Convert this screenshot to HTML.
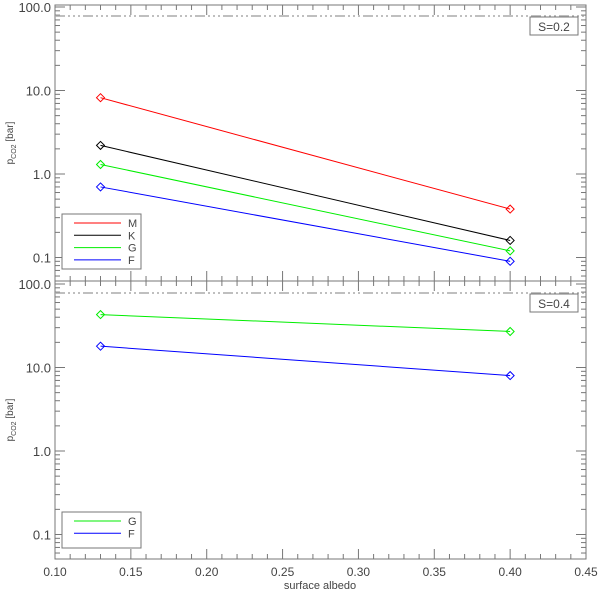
<!DOCTYPE html>
<html><head><meta charset="utf-8">
<style>
body{margin:0;background:#fff;}
svg{display:block;font-family:"Liberation Sans",sans-serif;}
</style></head>
<body>
<svg id="chart" width="600" height="590" viewBox="0 0 600 590"></svg>
<script>
const xVals=[0.13,0.40];
const topSeriesNames=["M","K","G","F"];
const topSeriesColors=["#ff0000","#000000","#00ee00","#0000ff"];
const topSeriesValues=[[8.2,0.38],[2.2,0.16],[1.3,0.12],[0.7,0.09]];
const botSeriesNames=["G","F"];
const botSeriesColors=["#00ee00","#0000ff"];
const botSeriesValues=[[43,27],[18,8]];
const xTicks=[0.10,0.15,0.20,0.25,0.30,0.35,0.40,0.45];
const xTickLabels=["0.10","0.15","0.20","0.25","0.30","0.35","0.40","0.45"];
const yTicks=[0.1,1,10,100];
const yTickLabels=["0.1","1.0","10.0","100.0"];
const limitValue=78;
const panelLabels=["S=0.2","S=0.4"];

const NS="http://www.w3.org/2000/svg";
const svg=document.getElementById("chart");
const X0=55,X1=586;
const AX="#777",TX="#444";
function xs(v){return X0+(v-0.10)/(0.45-0.10)*(X1-X0);}
function mk(tag,attrs,parent){const e=document.createElementNS(NS,tag);for(const k in attrs)e.setAttribute(k,attrs[k]);(parent||svg).appendChild(e);return e;}
const panels=[{top:5,bot:281,y100:7,names:topSeriesNames,colors:topSeriesColors,vals:topSeriesValues,leg:[62,214,79,55],lab:[530,17]},
{top:281,bot:559,y100:284,names:botSeriesNames,colors:botSeriesColors,vals:botSeriesValues,leg:[62,512,79,36],lab:[530,294]}];
const DEC=83.5;
panels.forEach((p,pi)=>{
  const g=mk("g",{});
  
  
  const ys=v=>p.y100+(2-Math.log10(v))*DEC;
  const fr=mk("rect",{x:X0,y:p.top,width:X1-X0,height:p.bot-p.top,fill:"none",stroke:AX,"stroke-width":1},g);
  
  
  for(let d=-2;d<=2;d++){for(let m=1;m<10;m++){const v=m*Math.pow(10,d);const y=ys(v);if(y<p.top||y>p.bot)continue;const L=m==1?10:5;
    mk("line",{x1:X0,x2:X0+L,y1:y,y2:y,stroke:AX},g);mk("line",{x1:X1,x2:X1-L,y1:y,y2:y,stroke:AX},g);}}
  yTicks.forEach((v,i)=>{const t=mk("text",{x:X0-4,y:ys(v)+5,"text-anchor":"end","font-size":13,fill:TX},g);t.textContent=yTickLabels[i];
    });
  for(let v=0.10;v<=0.4501;v+=0.01){const x=xs(v);const major=Math.abs(Math.round(v*100)%5)<0.01;const L=major?10:5;
    mk("line",{x1:x,x2:x,y1:p.bot,y2:p.bot-L,stroke:AX},g);mk("line",{x1:x,x2:x,y1:p.top,y2:p.top+L,stroke:AX},g);}
  const yt=mk("text",{transform:`translate(13,${(p.top+p.bot)/2}) rotate(-90)`,"text-anchor":"middle","font-size":10,fill:TX},g);
  yt.innerHTML='p<tspan font-size="7" dy="3">CO2</tspan><tspan dy="-3"> [bar]</tspan>';
  
  const ll=mk("line",{x1:X0,x2:X1,y1:ys(limitValue),y2:ys(limitValue),stroke:"#aaa","stroke-width":1.6,"stroke-dasharray":"10 3 2 3 2 3 2 3"},g);
  
  p.vals.forEach((vals,si)=>{
    const pts=vals.map((v,j)=>[xs(xVals[j]),ys(v)]);
    const ln=mk("polyline",{points:pts.map(q=>q.join(",")).join(" "),fill:"none",stroke:p.colors[si],"stroke-width":1},g);
    
    pts.forEach(q=>{const d=mk("polygon",{points:`${q[0]-4},${q[1]} ${q[0]},${q[1]-4} ${q[0]+4},${q[1]} ${q[0]},${q[1]+4}`,fill:"none",stroke:p.colors[si]},g);
      });
  });
  const [lx,ly,lw,lh]=p.leg;
  const lg=mk("g",{},g);
  mk("rect",{x:lx,y:ly,width:lw,height:lh,fill:"#fff",stroke:AX},lg);
  p.names.forEach((n,i)=>{const y=ly+9+i*12.3;
    mk("line",{x1:lx+12,x2:lx+59,y1:y,y2:y,stroke:p.colors[i]},lg);
    const t=mk("text",{x:lx+66,y:y+4,"font-size":11,fill:TX},lg);t.textContent=n;
    });
  const [bx,by]=p.lab;
  const lb=mk("g",{},g);
  mk("rect",{x:bx,y:by,width:48,height:18,fill:"#fff",stroke:AX},lb);
  const t=mk("text",{x:bx+24,y:by+14,"text-anchor":"middle","font-size":12,fill:TX},lb);t.textContent=panelLabels[pi];
});
xTicks.forEach((v,i)=>{const t=mk("text",{x:xs(v),y:576,"text-anchor":"middle","font-size":12,fill:TX});t.textContent=xTickLabels[i];
  });
const xt=mk("text",{x:320,y:589,"text-anchor":"middle","font-size":11,fill:TX});xt.textContent="surface albedo";

</script>
</body></html>
